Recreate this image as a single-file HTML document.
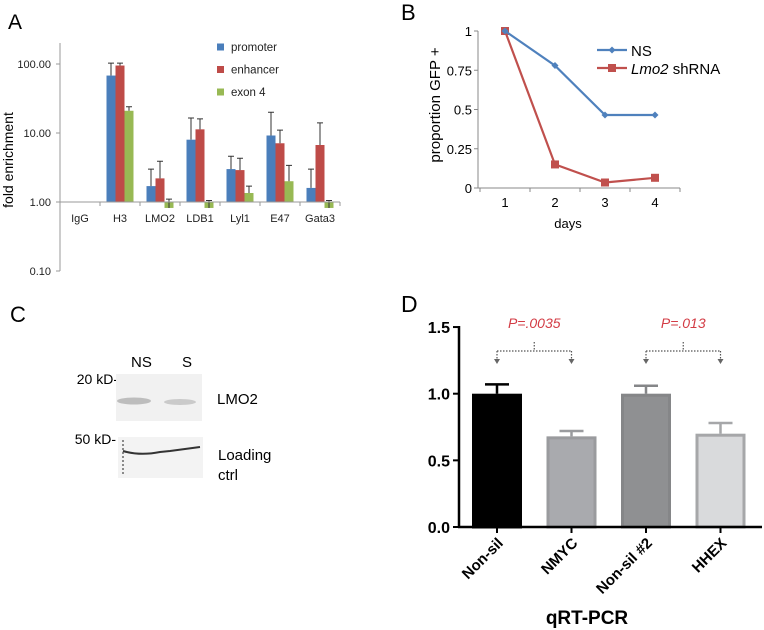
<!DOCTYPE html>
<html><head><meta charset="utf-8"><style>
html,body{margin:0;padding:0;background:#fff;}
svg{display:block;font-family:"Liberation Sans",sans-serif;}
</style></head><body>
<svg id="fig" width="764" height="630" viewBox="0 0 764 630">
<g id="pa"></g>
<g id="pb"></g>
<g id="pc">
  <text x="10" y="322" font-size="22">C</text>
  <text x="131" y="367" font-size="15">NS</text>
  <text x="182" y="367" font-size="15">S</text>
  <text x="118" y="384" font-size="14" text-anchor="end">20 kD-</text>
  <rect x="116" y="374" width="86" height="47" fill="#f1f1f1"/>
  <ellipse cx="134" cy="401" rx="17" ry="3.5" fill="#bdbdbd"/>
  <ellipse cx="180" cy="402" rx="16" ry="3" fill="#cacaca"/>
  <text x="217" y="404" font-size="15">LMO2</text>
  <text x="116" y="444" font-size="14" text-anchor="end">50 kD-</text>
  <rect x="118" y="437" width="85" height="41" fill="#f3f3f3"/>
  <path d="M123,451 Q140,456 160,452 L170,451 Q185,449 200,447" stroke="#333" stroke-width="2" fill="none"/>
  <line x1="123" y1="440" x2="123" y2="476" stroke="#444" stroke-width="1.2" stroke-dasharray="2,2"/>
  <text x="218" y="460" font-size="15">Loading</text>
  <text x="218" y="480" font-size="15">ctrl</text>
</g>
<g id="pd"></g>
</svg>
<script>
const NS="http://www.w3.org/2000/svg";
function mk(parent,tag,attrs,text){const e=document.createElementNS(NS,tag);for(const k in attrs)e.setAttribute(k,attrs[k]);if(text!==undefined)e.textContent=text;parent.appendChild(e);return e;}

// ---------- Panel A data ----------
const aCategories=["IgG","H3","LMO2","LDB1","Lyl1","E47","Gata3"];
const aSeries=["promoter","enhancer","exon 4"];
const aPromoter=[null,68,1.7,8,3,9.2,1.6];
const aPromoterErr=[null,103,3.0,16.5,4.6,20,3.0];
const aEnhancer=[null,95,2.2,11.3,2.9,7.1,6.7];
const aEnhancerErr=[null,103,3.9,16,4.3,11,14];
const aExon=[null,21,0.82,0.82,1.35,2,0.82];
const aExonErr=[null,24,1.1,1.05,1.7,3.4,1.05];
const aTicks=[100,10,1,0.1];
const aTickLabels=["100.00","10.00","1.00","0.10"];

// ---------- Panel B data ----------
const bDays=[1,2,3,4];
const bNS=[1,0.78,0.465,0.465];
const bLmo2=[1,0.15,0.035,0.065];
const bTicks=[0,0.25,0.5,0.75,1];
const bTickLabels=["0","0.25","0.5","0.75","1"];

// ---------- Panel D data ----------
const dCategories=["Non-sil","NMYC","Non-sil #2","HHEX"];
const dValues=[1.0,0.68,1.0,0.70];
const dErrors=[0.07,0.04,0.06,0.08];
const dTicks=[0,0.5,1.0,1.5];
const dTickLabels=["0.0","0.5","1.0","1.5"];
const dPLabels=["P=.0035","P=.013"];

// ===== Panel A =====
(function(){
const g=document.getElementById('pa');
const ay=v=>202-69*Math.log10(v);
const ax0=60,cw=40;
const cx=i=>ax0+cw*i+cw/2;
let t=mk(g,'text',{x:8,y:29,'font-size':21});


t.textContent="A";
let l=mk(g,'line',{x1:ax0,y1:43,x2:ax0,y2:271,stroke:'#999'});


aTicks.forEach((v,i)=>{
  mk(g,'line',{x1:ax0-4,y1:ay(v),x2:ax0,y2:ay(v),stroke:'#999'});
  const tt=mk(g,'text',{x:51,y:ay(v)+4,'font-size':11,'text-anchor':'end',fill:'#222'},aTickLabels[i]);
  
  
});
let yl=mk(g,'text',{transform:'translate(13,160) rotate(-90)','font-size':14,'text-anchor':'middle'},'fold enrichment');


const colors=["#4a7ebb","#be4b48","#98b954"];
const vals=[aPromoter,aEnhancer,aExon],errs=[aPromoterErr,aEnhancerErr,aExonErr];
aCategories.forEach((c,i)=>{
  for(let s=0;s<3;s++){
    const v=vals[s][i];if(v==null)continue;
    const x=cx(i)-13.5+9*s;
    const y1=Math.min(ay(v),ay(1)),h=Math.abs(ay(v)-ay(1));
    const r=mk(g,'rect',{x:x,y:y1,width:9,height:Math.max(h,0.5),fill:colors[s]});
    
    
    const e=errs[s][i],xm=x+4.5;
    const ye=ay(e);
    const base=v>=1?ay(v):ay(v);
    const el=mk(g,'path',{d:`M${xm},${base} V${ye} M${xm-3},${ye} H${xm+3}`,stroke:'#333','stroke-width':1,fill:'none'});
    
    
  }
});
let xa=mk(g,'line',{x1:ax0,y1:ay(1),x2:ax0+cw*7,y2:ay(1),stroke:'#999'});


aCategories.forEach((c,i)=>{
  mk(g,'line',{x1:ax0+cw*(i+1),y1:ay(1),x2:ax0+cw*(i+1),y2:ay(1)+4,stroke:'#999'});
  const tt=mk(g,'text',{x:cx(i),y:222,'font-size':11,'text-anchor':'middle',fill:'#222'},c);
  
  
});
aSeries.forEach((s,i)=>{
  const y=47+22.5*i;
  const r=mk(g,'rect',{x:217,y:y-3.5,width:7,height:7,fill:colors[i]});
  
  
  const tt=mk(g,'text',{x:231,y:y+4,'font-size':11.5,fill:'#222'},s);
  
  
});
})();

// ===== Panel B =====
(function(){
const g=document.getElementById('pb');
const by=v=>188-157*v;
const bx=d=>505+50*(d-1);
let t=mk(g,'text',{x:401,y:20,'font-size':22},'B');


let ya=mk(g,'line',{x1:478,y1:31,x2:478,y2:188,stroke:'#888'});


let xa=mk(g,'line',{x1:478,y1:188,x2:680,y2:188,stroke:'#888'});


bTicks.forEach((v,i)=>{
  mk(g,'line',{x1:474,y1:by(v),x2:478,y2:by(v),stroke:'#888'});
  const tt=mk(g,'text',{x:472,y:by(v)+5,'font-size':13,'text-anchor':'end'},bTickLabels[i]);
  
  
});
[0,1,2,3,4].forEach(k=>mk(g,'line',{x1:480+50*k,y1:188,x2:480+50*k,y2:192,stroke:'#888'}));
bDays.forEach(d=>{
  const tt=mk(g,'text',{x:bx(d),y:207,'font-size':13,'text-anchor':'middle'},String(d));
  
  
});
let xt=mk(g,'text',{x:568,y:228,'font-size':13,'text-anchor':'middle'},'days');


let yt=mk(g,'text',{transform:'translate(440,105) rotate(-90)','font-size':15,'text-anchor':'middle'},'proportion GFP +');


const redPts=bDays.map((d,i)=>bx(d)+','+by(bLmo2[i])).join(' ');
const bluePts=bDays.map((d,i)=>bx(d)+','+by(bNS[i])).join(' ');
let rl=mk(g,'polyline',{points:redPts,fill:'none',stroke:'#c0504d','stroke-width':2.2});


bDays.forEach((d,i)=>{
  const m=mk(g,'rect',{x:bx(d)-4,y:by(bLmo2[i])-4,width:8,height:8,fill:'#c0504d'});
  
  
});
let bl=mk(g,'polyline',{points:bluePts,fill:'none',stroke:'#4f81bd','stroke-width':2.2});


bDays.forEach((d,i)=>{
  const x=bx(d),y=by(bNS[i]);
  const m=mk(g,'path',{d:`M${x},${y-3.5} L${x+3.5},${y} L${x},${y+3.5} L${x-3.5},${y} Z`,fill:'#4f81bd'});
  
  
});
mk(g,'line',{x1:597,y1:50,x2:627,y2:50,stroke:'#4f81bd','stroke-width':2.2});
mk(g,'path',{d:'M612,46.5 L615.5,50 L612,53.5 L608.5,50 Z',fill:'#4f81bd'});
let n1=mk(g,'text',{x:631,y:56,'font-size':15},'NS');


mk(g,'line',{x1:597,y1:68,x2:627,y2:68,stroke:'#c0504d','stroke-width':2.2});
mk(g,'rect',{x:608,y:64,width:8,height:8,fill:'#c0504d'});
let n2=mk(g,'text',{x:631,y:74,'font-size':15});


mk(n2,'tspan',{'font-style':'italic'},'Lmo2');
mk(n2,'tspan',{},' shRNA');
})();

// ===== Panel D =====
(function(){
const g=document.getElementById('pd');
const dy=v=>527-133.3*v;
const cw=74.5,x0=459;
const cx=i=>x0+cw*i+38;
let t=mk(g,'text',{x:401,y:312,'font-size':23},'D');


const fills=["#000","#a9aaae","#8f9092","#d9dadc"];
const strokes=["#000","#9a9b9e","#858688","#a6a7a9"];
dCategories.forEach((c,i)=>{
  const x=cx(i)-25,y=dy(dValues[i]);
  const top=dy(dValues[i]+dErrors[i]);
  const e=mk(g,'path',{d:`M${cx(i)},${y} V${top} M${cx(i)-12},${top} H${cx(i)+12}`,stroke:strokes[i],'stroke-width':2.5,fill:'none'});
  
  
  const r=mk(g,'rect',{x:x+1.5,y:y+1.5,width:47,height:527-y-1.5,fill:fills[i],stroke:strokes[i],'stroke-width':3});
  
  
  mk(g,'line',{x1:cx(i),y1:527,x2:cx(i),y2:533,stroke:'#000','stroke-width':2});
  const tt=mk(g,'text',{transform:`translate(${cx(i)+7},${544}) rotate(-45)`,'font-size':15,'font-weight':'bold','text-anchor':'end'},c);
  
  
});
let ya=mk(g,'line',{x1:459,y1:326,x2:459,y2:528,stroke:'#000','stroke-width':2.5});


let xa=mk(g,'line',{x1:458,y1:527,x2:762,y2:527,stroke:'#000','stroke-width':2.5});


dTicks.forEach((v,i)=>{
  mk(g,'line',{x1:453,y1:dy(v),x2:459,y2:dy(v),stroke:'#000','stroke-width':2});
  const tt=mk(g,'text',{x:450,y:dy(v)+6,'font-size':16,'font-weight':'bold','text-anchor':'end'},dTickLabels[i]);
  
  
});
let xt=mk(g,'text',{x:587,y:624,'font-size':19,'font-weight':'bold','text-anchor':'middle'},'qRT-PCR');


[[0,1],[2,3]].forEach((p,k)=>{
  const a=cx(p[0]),b=cx(p[1]),m=(a+b)/2;
  const br=mk(g,'path',{d:`M${m},342 V351 M${a},351 H${b} M${a},351 V360 M${b},351 V360`,stroke:'#555','stroke-width':1.2,'stroke-dasharray':'1.5,1.5',fill:'none'});
  
  
  mk(g,'path',{d:`M${a-3},359 L${a+3},359 L${a},364 Z M${b-3},359 L${b+3},359 L${b},364 Z`,fill:'#666'});
  const tt=mk(g,'text',{x:m,y:328,'font-size':14,'font-style':'italic',fill:'#d33c45','text-anchor':'middle'},dPLabels[k]);
  
  
});
})();
</script>
</body></html>
